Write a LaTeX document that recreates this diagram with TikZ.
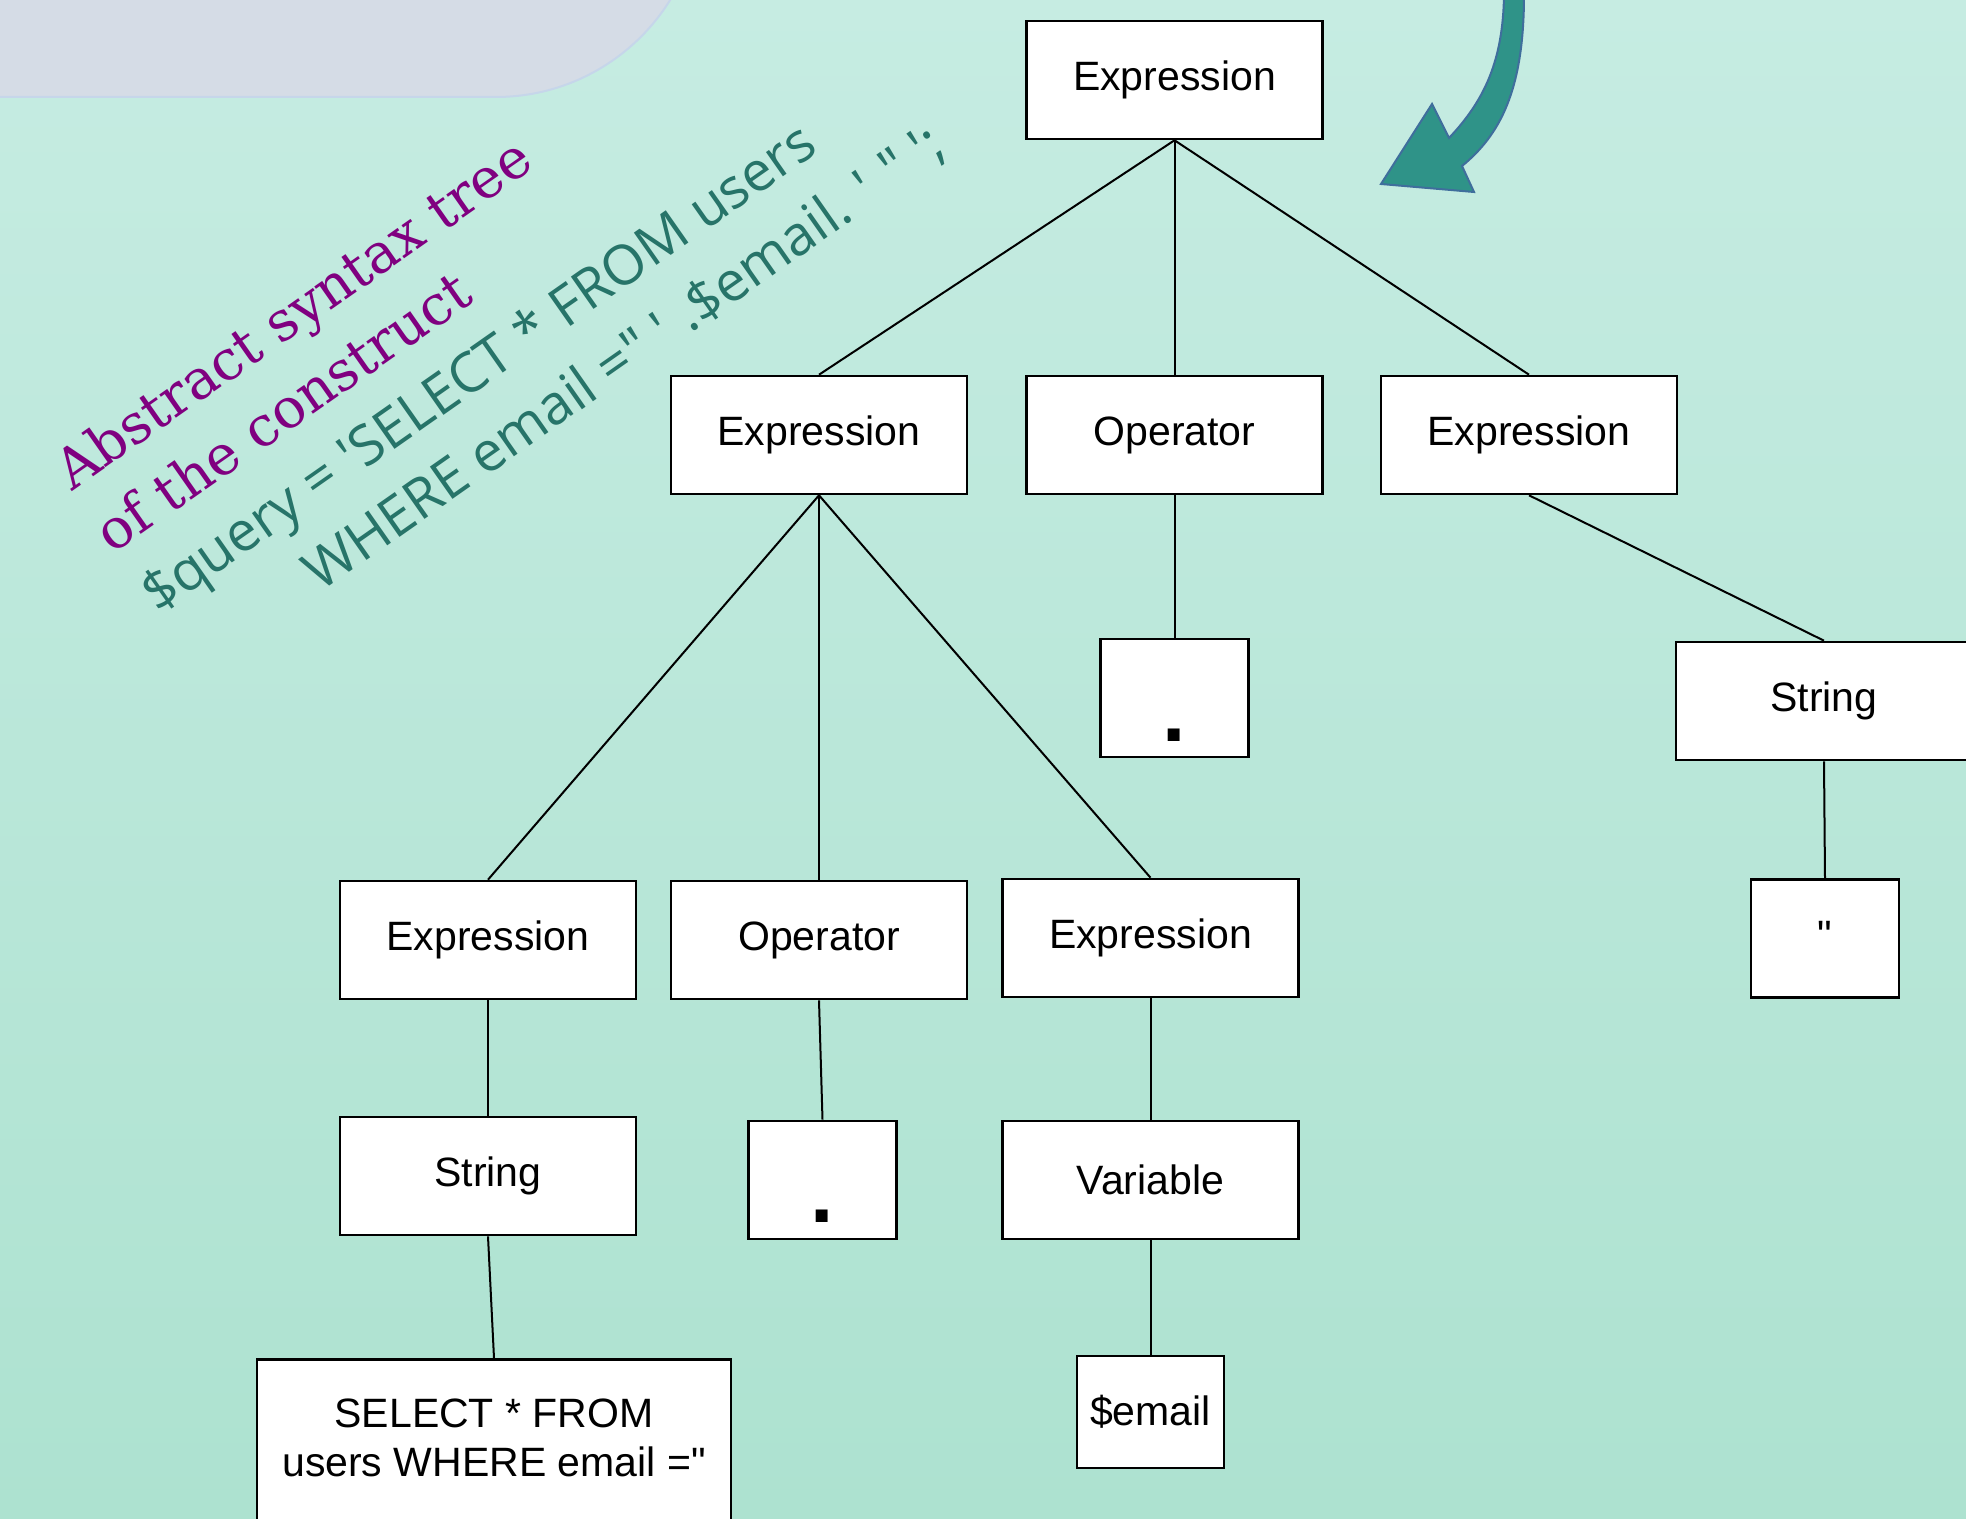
\documentclass[tikz,border=0pt]{standalone}
\usepackage{fontspec}
\setmainfont{Liberation Sans}[Ligatures=TeXOff]
\newfontfamily\purplefont{DejaVu Serif}
\newfontfamily\tealfont{Open Sans}[Ligatures=TeXOff]
\definecolor{bgtop}{HTML}{C6ECE2}
\definecolor{bgbot}{HTML}{ADE2D0}
\definecolor{greyfill}{HTML}{D5DCE6}
\definecolor{greyedge}{HTML}{C6D6EA}
\definecolor{arrowfill}{HTML}{2F9388}
\definecolor{arrowedge}{HTML}{3F6E9C}
\definecolor{purp}{HTML}{800080}
\definecolor{tealtxt}{HTML}{277469}
\begin{document}
\begin{tikzpicture}[x=0.5pt,y=-0.5pt,
  box/.style={draw=black, fill=white, line width=1.3pt, minimum width=148pt,
    minimum height=59pt, inner sep=0pt, font=\fontsize{20.5}{24.5}\selectfont},
  smallbox/.style={box, minimum width=74pt},
  conn/.style={line width=1pt, draw=black},
  purpline/.style={rotate=35, anchor=base west, inner sep=0pt, text=purp,
    font=\purplefont\fontsize{27.5}{32}\selectfont},
  tealline/.style={rotate=35, anchor=base west, inner sep=0pt, text=tealtxt,
    font=\tealfont\fontsize{27.6}{32}\selectfont}]
\useasboundingbox (0,0) rectangle (1966,1519);
% background
\shade[top color=bgtop, bottom color=bgbot] (0,0) rectangle (1966,1519);
% grey shape top-left
\filldraw[fill=greyfill, draw=greyedge, line width=1pt]
  (-5,-110) -- (-5,97) -- (496,97) .. controls (609,97) and (701,5) .. (701,-108) -- cycle;
% curved arrow
\filldraw[fill=arrowfill, draw=arrowedge, line width=1pt, line join=miter]
  (1504,-5) .. controls (1503,60) and (1485,100) .. (1449,138)
  -- (1432,104) -- (1381,184) -- (1474,192) -- (1462,166)
  .. controls (1500,135) and (1524,90) .. (1524,-5) -- cycle;
% rotated texts
\node[purpline] (t1) at (72,492) {Abstract syntax tree};
\node[purpline] (t2) at (112.5,555) {of the construct};
\node[tealline] (t3) at (158,615) {\$query = 'SELECT * FROM users};
\node[tealline] (t4) at (320,593) {WHERE email =" ' .\$email. ' " ';};
% nodes
\node[box] (root) at (1174.5,80) {Expression};
\node[box] (e2a) at (819,435) {Expression};
\node[box] (op2) at (1174.5,435) {Operator};
\node[box] (e2c) at (1529,435) {Expression};
\node[smallbox] (dot1) at (1174.5,698) {\raisebox{-21.5pt}[0pt][0pt]{\fontsize{42}{48}\selectfont\bfseries .}};
\node[box] (str2) at (1824,701) {String};
\node[smallbox] (quot) at (1825,938.5) {\raisebox{-5.5pt}[0pt][0pt]{"}};
\node[box] (e3a) at (488,940) {Expression};
\node[box] (op3) at (819,940) {Operator};
\node[box] (e3c) at (1150.5,938) {Expression};
\node[box] (str3) at (488,1176) {String};
\node[smallbox] (dot2) at (822.5,1180) {\raisebox{-21pt}[0pt][0pt]{\fontsize{42}{48}\selectfont\bfseries .}};
\node[box] (var) at (1150.5,1180) {Variable};
\node[box, minimum width=237pt, minimum height=110pt, anchor=north] (sel) at (494,1358) {};
\node[align=center, anchor=north, inner sep=0pt, font=\fontsize{20.5}{24.5}\selectfont] (seltext) at (494,1398) {SELECT * FROM\\users WHERE email ="};
\node[smallbox, minimum width=73.5pt, minimum height=56pt] (email) at (1150.5,1412) {\$email};
% connectors
\draw[conn] (root.south) -- (e2a.north);
\draw[conn] (root.south) -- (op2.north);
\draw[conn] (root.south) -- (e2c.north);
\draw[conn] (op2.south) -- (dot1.north);
\draw[conn] (e2c.south) -- (str2.north);
\draw[conn] (str2.south) -- (quot.north);
\draw[conn] (e2a.south) -- (e3a.north);
\draw[conn] (e2a.south) -- (op3.north);
\draw[conn] (e2a.south) -- (e3c.north);
\draw[conn] (e3a.south) -- (str3.north);
\draw[conn] (op3.south) -- (dot2.north);
\draw[conn] (e3c.south) -- (var.north);
\draw[conn] (str3.south) -- (sel.north);
\draw[conn] (var.south) -- (email.north);
\end{tikzpicture}
\end{document}
